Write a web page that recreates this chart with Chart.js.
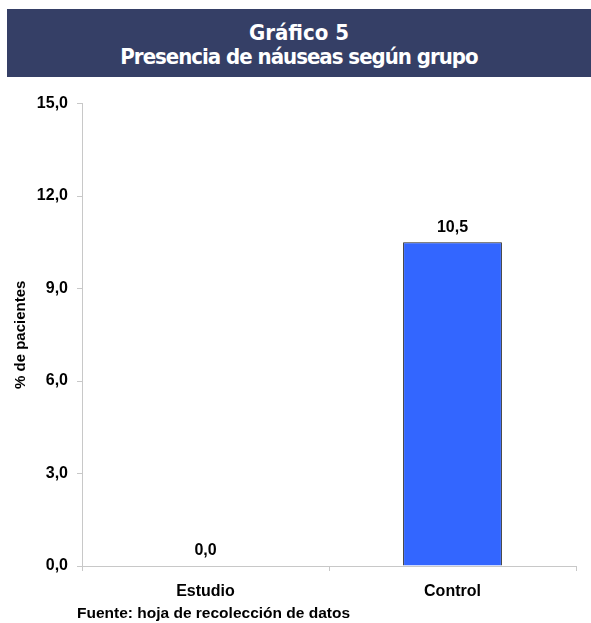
<!DOCTYPE html>
<html>
<head>
<meta charset="utf-8">
<script src="https://cdn.jsdelivr.net/npm/chart.js@4"></script>
<style>
  body { margin: 0; background: #fff; width: 591px; height: 623px; position: relative; overflow: hidden; }
  #banner {
    position: absolute; left: 7px; top: 9px; width: 584px; height: 68px;
    background: #353f66; color: #fff; text-align: center;
    font-family: "DejaVu Sans Condensed", "DejaVu Sans", sans-serif;
    font-stretch: condensed;
    font-weight: bold; font-size: 22px; line-height: 24px;
    box-sizing: border-box; padding-top: 12px;
  }
  #banner .l2 { letter-spacing: -1px; }
  #wrap { position: absolute; left: 0; top: 85px; width: 591px; height: 525px; }
  #fuente {
    position: absolute; left: 77px; top: 604px;
    font-family: "Liberation Sans", Arial, sans-serif; font-weight: bold; font-size: 15.5px; color: #000;
  }
</style>
</head>
<body>
<div id="banner">Gráfico 5<br><span class="l2">Presencia de náuseas según grupo</span></div>
<div id="wrap"><canvas id="chart" width="591" height="525"></canvas></div>
<div id="fuente">Fuente: hoja de recolección de datos</div>
<script>
// data
const grupos = ["Estudio", "Control"];
const nauseas = [0.0, 10.5];
const yTicks = [0, 3, 6, 9, 12, 15];

const fmt = v => v.toFixed(1).replace(".", ",");

// draws the value above each bar
const valueLabels = {
  id: "valueLabels",
  afterDatasetsDraw(chart) {
    const ctx = chart.ctx;
    const meta = chart.getDatasetMeta(0);
    ctx.save();
    ctx.font = "bold 16px 'Liberation Sans', Arial, sans-serif";
    ctx.fillStyle = "#000";
    ctx.textAlign = "center";
    ctx.textBaseline = "bottom";
    meta.data.forEach((bar, i) => {
      ctx.fillText(fmt(nauseas[i]), bar.x, bar.y - 7);
    });
    ctx.restore();
  }
};

const ctx = document.getElementById("chart").getContext("2d");
new Chart(ctx, {
  type: "bar",
  data: {
    labels: grupos,
    datasets: [{
      data: nauseas,
      backgroundColor: "#3366ff",
      borderColor: "#222",
      borderWidth: 1,
      categoryPercentage: 1,
      barPercentage: 0.4
    }]
  },
  options: {
    responsive: false,
    animation: false,
    layout: { padding: { top: 16, right: 15, left: 0, bottom: 0 } },
    plugins: { legend: { display: false }, tooltip: { enabled: false } },
    scales: {
      x: {
        grid: { offset: true, drawOnChartArea: false, color: "#c8c8c8", tickLength: 5 },
        border: { color: "#c8c8c8" },
        ticks: {
          color: "#000", padding: 11,
          font: { family: "'Liberation Sans', Arial, sans-serif", size: 16, weight: "bold" }
        },
        afterFit(scale) { scale.height = 44; }
      },
      y: {
        min: 0, max: 15,
        afterBuildTicks(scale) { scale.ticks = yTicks.map(v => ({ value: v })); },
        grid: { drawOnChartArea: false, color: "#c8c8c8", tickLength: 5 },
        border: { color: "#c8c8c8" },
        ticks: {
          color: "#000", padding: 9,
          font: { family: "'Liberation Sans', Arial, sans-serif", size: 16, weight: "bold" },
          callback: v => fmt(v)
        },
        title: {
          display: true, text: "% de pacientes", color: "#000",
          padding: { top: 12, bottom: 0 },
          font: { family: "'Liberation Sans', Arial, sans-serif", size: 15, weight: "bold" }
        },
        afterFit(scale) { scale.width = 82; }
      }
    }
  },
  plugins: [valueLabels]
});
</script>
</body>
</html>
